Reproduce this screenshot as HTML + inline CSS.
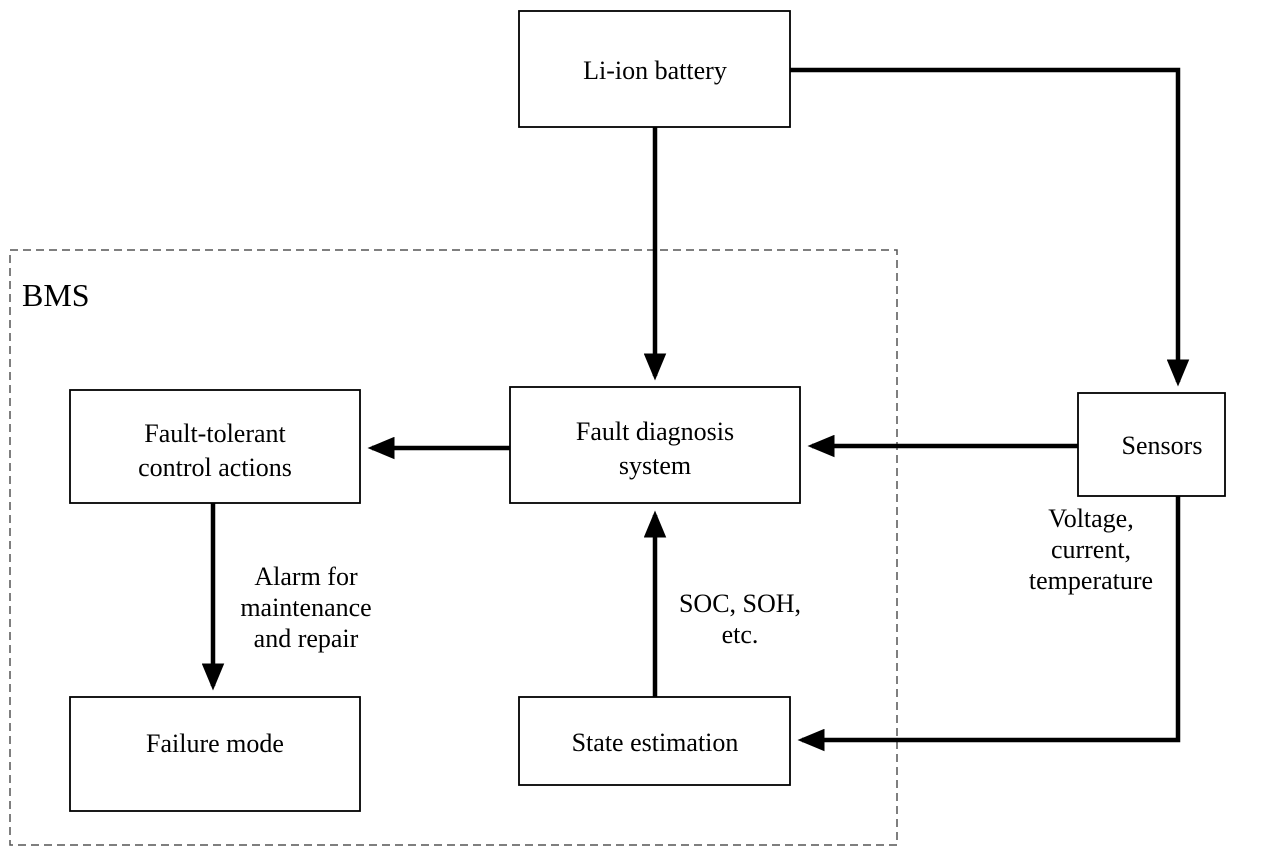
<!DOCTYPE html>
<html><head><style>
body{margin:0;background:#fff;}
svg text{font-family:"Liberation Serif",serif;font-size:26px;fill:#000;}
</style></head><body>
<svg width="1280" height="854" viewBox="0 0 1280 854" xmlns="http://www.w3.org/2000/svg">
<defs>
<marker id="a" markerWidth="6" markerHeight="5" refX="5" refY="2.5" orient="auto" markerUnits="strokeWidth">
<path d="M0,0 L6,2.5 L0,5 z" fill="#000"/></marker>
</defs>
<rect x="10" y="250" width="887" height="595" fill="none" stroke="#555" stroke-width="1.5" stroke-dasharray="8,5"/>
<text x="22" y="306" style="font-size:32px">BMS</text>
<g fill="none" stroke="#000" stroke-width="1.8">
<rect x="519" y="11" width="271" height="116"/>
<rect x="510" y="387" width="290" height="116"/>
<rect x="70" y="390" width="290" height="113"/>
<rect x="70" y="697" width="290" height="114"/>
<rect x="519" y="697" width="271" height="88"/>
<rect x="1078" y="393" width="147" height="103"/>
</g>
<g fill="none" stroke="#000" stroke-width="4.5">
<path d="M655,127 V376" marker-end="url(#a)"/>
<path d="M790,70 H1178 V382" marker-end="url(#a)"/>
<path d="M1078,446 H812" marker-end="url(#a)"/>
<path d="M510,448 H372" marker-end="url(#a)"/>
<path d="M213,503 V686" marker-end="url(#a)"/>
<path d="M655,697 V515" marker-end="url(#a)"/>
<path d="M1178,496 V740 H802" marker-end="url(#a)"/>
</g>
<g text-anchor="middle">
<text x="655" y="79">Li-ion battery</text>
<text x="655" y="440">Fault diagnosis</text>
<text x="655" y="474">system</text>
<text x="215" y="442">Fault-tolerant</text>
<text x="215" y="476">control actions</text>
<text x="215" y="752">Failure mode</text>
<text x="655" y="751">State estimation</text>
<text x="1162" y="454">Sensors</text>
<text x="1091" y="527">Voltage,</text>
<text x="1091" y="558">current,</text>
<text x="1091" y="589">temperature</text>
<text x="306" y="585">Alarm for</text>
<text x="306" y="616">maintenance</text>
<text x="306" y="647">and repair</text>
<text x="740" y="612">SOC, SOH,</text>
<text x="740" y="643">etc.</text>
</g>
</svg>
</body></html>
